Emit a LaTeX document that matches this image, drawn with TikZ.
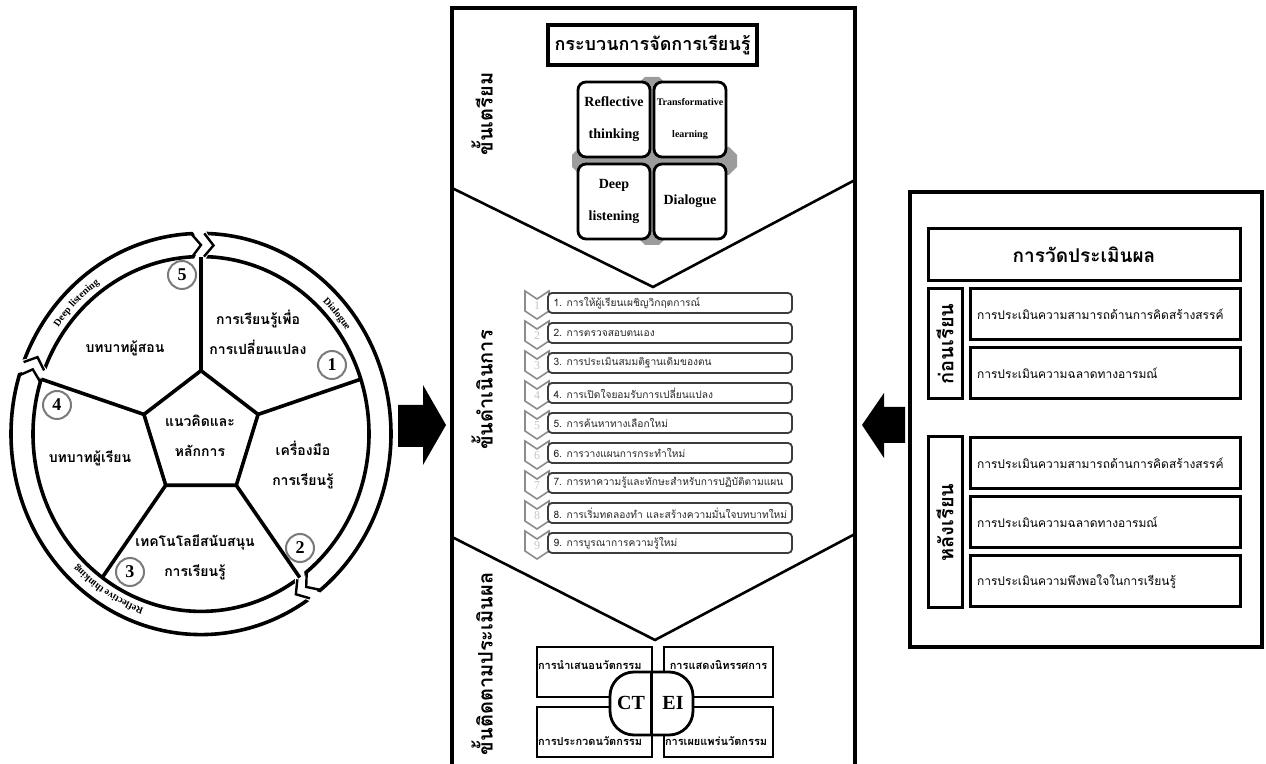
\documentclass[tikz,border=0pt]{standalone}
\usepackage{fontspec}
\setmainfont{Liberation Serif}
\newfontfamily\thaifont[Script=Thai]{Loma}
\usetikzlibrary{positioning,decorations.text}

\definecolor{crossgray}{HTML}{9C9C9C}
\definecolor{rowline}{HTML}{3C3C3C}
\definecolor{chevgray}{HTML}{8C8C8C}
\definecolor{numgray}{HTML}{7A7A7A}

\tikzset{
  panelline/.style={line width=1.6pt},
  ringline/.style={line width=1.8pt},
  sidelabel/.style={rotate=90, font=\thaifont\bfseries\fontsize{10}{12}\selectfont},
  segtext/.style={align=center, font=\thaifont\bfseries\fontsize{7}{15}\selectfont},
  numcircle/.style={circle, draw=numgray, line width=1pt, fill=white, minimum size=14pt,
    inner sep=0pt, font=\bfseries\fontsize{9}{9}\selectfont},
  topicbox/.style={draw, line width=1.4pt, rounded corners=4pt, fill=white,
    minimum width=36pt, minimum height=37.5pt, inner sep=0pt, align=center,
    font=\bfseries\fontsize{7}{16}\selectfont},
  stepbox/.style={draw=rowline, line width=0.9pt, rounded corners=2pt, fill=white,
    minimum width=122pt, minimum height=10pt, inner sep=0pt},
  steptext/.style={anchor=west, inner sep=0pt, text=black!85,
    font=\thaifont\fontsize{5.1}{6}\selectfont},
  stepchev/.style={draw=chevgray, line width=0.8pt, fill=white},
  showbox/.style={draw, line width=1.4pt, fill=white, minimum width=#1,
    minimum height=25pt, inner sep=0pt},
  showtext/.style={inner sep=1pt, font=\thaifont\bfseries\fontsize{5.5}{6}\selectfont},
  evalbox/.style={draw, line width=1.5pt, fill=white, minimum height=25.5pt,
    minimum width=135pt, inner xsep=3.5pt, text width=128pt, align=left,
    font=\thaifont\fontsize{6}{7}\selectfont},
  sidebox/.style={draw, line width=1.5pt, fill=white, minimum width=17pt, inner sep=0pt}
}

\begin{document}
\begin{tikzpicture}[x=0.5pt,y=-0.5pt]
    \useasboundingbox (0,0) rectangle (1266,764);

    % Wheel
    \begin{scope}[shift={(201,434)}, x=0.5pt, y=0.528pt]
        \draw[ringline] (0,0) ellipse[x radius=95pt, y radius=100.3pt];
        \draw[ringline] (0,0) ellipse[x radius=84pt, y radius=88.7pt];

        % Breaks in the ring
        \foreach \t in {91,-53,161}
            {
                \fill[white] ({\t+2}:163) -- ({\t-1}:179) -- ({\t+2}:195) -- ({\t-2}:195) -- ({\t-5}:179) -- ({\t-2}:163) -- cycle;
                \draw[line width=1.2pt] ({\t+2}:168) -- ({\t-1}:179) -- ({\t+2}:190);
                \draw[line width=1.2pt] ({\t-2}:168) -- ({\t-5}:179) -- ({\t-2}:190);
            }

        % Ring labels
        \path[decorate, decoration={text along path, text align=center,
            text={|\bfseries\fontsize{5}{6}\selectfont|Deep listening}}]
            (148:175) arc[start angle=148, end angle=122, radius=175];
        \path[decorate, decoration={text along path, text align=center,
            text={|\bfseries\fontsize{5}{6}\selectfont|Dialogue}}]
            (49:175) arc[start angle=49, end angle=31, radius=175];
        \path[decorate, decoration={text along path, text align=center,
            text={|\bfseries\fontsize{5}{6}\selectfont|Reflective thinking}}]
            (256:175) arc[start angle=256, end angle=220, radius=175];

        % Pentagon and spokes
        \foreach \a [count=\i] in {90,18,-54,-126,-198}
            {
                \coordinate (p\i) at (\a:60);
                \coordinate (s\i) at (\a:168);
                \draw[ringline] (p\i) -- (s\i);
            }
        \draw[ringline, fill=white] (p1) -- (p2) -- (p3) -- (p4) -- (p5) -- cycle;
    \end{scope}

    % Wheel texts
    \node[segtext] (core) at (200,436) {แนวคิดและ\\หลักการ};
    \node[segtext] (change) at (258,332) {การเรียนรู้เพื่อ\\การเปลี่ยนแปลง};
    \node[segtext] (tools) at (303,465) {เครื่องมือ\\การเรียนรู้};
    \node[segtext] (tech) at (195,557) {เทคโนโลยีสนับสนุน\\การเรียนรู้};
    \node[segtext] (learner) at (90,458) {บทบาทผู้เรียน};
    \node[segtext] (teacher) at (125,348) {บทบาทผู้สอน};

    % Numbers
    \foreach \n/\x/\y in {1/332/365, 2/300/548, 3/130/572, 4/57/405, 5/182/275}
        {
            \node[numcircle] (num\n) at (\x,\y) {\n};
        }

    % Arrows
    \fill (398,405) -- (423,405) -- (423,385) -- (446,425) -- (423,465) -- (423,447) -- (398,447) -- cycle;
    \fill (905,407) -- (884,407) -- (884,393) -- (862,425) -- (884,458) -- (884,443) -- (905,443) -- cycle;

    % Process panel
    \draw[panelline] (452,764) -- (452,8) -- (855,8) -- (855,764);
    \draw[line width=1.3pt] (452,188) -- (653,287) -- (855,180);
    \draw[line width=1.3pt] (452,537) -- (655,640) -- (855,534);

    \node[sidelabel] (prep) at (482,114) {ขั้นเตรียม};
    \node[sidelabel] (proc) at (482,390) {ขั้นดำเนินการ};
    \node[sidelabel] (follow) at (482,664) {ขั้นติดตามประเมินผล};

    \node[draw, line width=1.6pt, minimum width=104.5pt, minimum height=20pt, inner sep=0pt,
        font=\thaifont\bfseries\fontsize{9}{10}\selectfont] (maintitle) at (652.5,45) {กระบวนการจัดการเรียนรู้};

    % Cross behind the four topics
    \fill[crossgray] (637,85) -- (645,77) -- (659,77) -- (667,85) -- (667,237) -- (659,245) -- (645,245) -- (637,237) -- cycle;
    \fill[crossgray] (580,147) -- (729,147) -- (737,155) -- (737,167) -- (729,175) -- (580,175) -- (572,167) -- (572,155) -- cycle;

    \node[topicbox] (reflect) at (614,119.5) {Reflective\\thinking};
    \node[topicbox, font=\bfseries\fontsize{5}{16}\selectfont] (transform) at (690,119.5) {Transformative\\learning};
    \node[topicbox] (listen) at (614,201.5) {Deep\\listening};
    \node[topicbox] (dialog) at (690,201.5) {Dialogue};

    % Steps
    \foreach \i/\txt in {1/{การให้ผู้เรียนเผชิญวิกฤตการณ์}, 2/{การตรวจสอบตนเอง},
        3/{การประเมินสมมติฐานเดิมของตน}, 4/{การเปิดใจยอมรับการเปลี่ยนแปลง},
        5/{การค้นหาทางเลือกใหม่}, 6/{การวางแผนการกระทำใหม่},
        7/{การหาความรู้และทักษะสำหรับการปฏิบัติตามแผน},
        8/{การเริ่มทดลองทำ และสร้างความมั่นใจบทบาทใหม่}, 9/{การบูรณาการความรู้ใหม่}}
        {
            \pgfmathsetmacro{\yt}{291+30*(\i-1)}
            \draw[stepchev] (525,\yt) -- (537,\yt+8) -- (549,\yt) -- (549,\yt+20) -- (537,\yt+28) -- (525,\yt+20) -- cycle;
            \node[font=\fontsize{6}{6}\selectfont, text=chevgray!50] (cn\i) at (537,\yt+15) {\i};
            \node[stepbox] (step\i) at (670,\yt+12) {};
            \node[steptext] (steptxt\i) at ([xshift=3pt]step\i.west) {\i. \txt};
        }

    % Follow-up activities
    \node[showbox=57.5pt] (present) at (594.5,672) {};
    \node[showbox=54.5pt] (exhibit) at (718.5,672) {};
    \node[showbox=57.5pt] (contest) at (594.5,732) {};
    \node[showbox=54.5pt] (spread) at (718.5,732) {};
    \node[showtext, anchor=west] (presenttext) at ([yshift=3.5pt]present.west) {การนำเสนอนวัตกรรม};
    \node[showtext] (exhibittext) at ([yshift=3.5pt]exhibit.center) {การแสดงนิทรรศการ};
    \node[showtext, anchor=west] (contesttext) at ([yshift=-4.5pt]contest.west) {การประกวดนวัตกรรม};
    \node[showtext, anchor=west] (spreadtext) at ([yshift=-4.5pt]spread.west) {การเผยแพร่นวัตกรรม};

    \node[draw, line width=1.4pt, fill=white, rounded corners=12pt, minimum width=41.5pt,
        minimum height=31.5pt] (ctei) at (651.5,703.5) {};
    \draw[line width=1.4pt] (ctei.north) -- (ctei.south);
    \node[font=\bfseries\fontsize{10}{10}\selectfont] (ct) at (631,703) {CT};
    \node[font=\bfseries\fontsize{10}{10}\selectfont] (ei) at (673,703) {EI};

    % Evaluation panel
    \node[draw, line width=1.6pt, minimum width=176pt, minimum height=227.5pt] (evalframe) at (1086,419.5) {};
    \node[draw, line width=1.5pt, minimum width=156pt, minimum height=26pt,
        font=\thaifont\bfseries\fontsize{9.5}{10}\selectfont] (evaltitle) at (1084,255) {การวัดประเมินผล};

    \node[sidebox, minimum height=55pt] (before) at (945,344) {};
    \node[sidelabel] (beforetext) at (before.center) {ก่อนเรียน};
    \node[sidebox, minimum height=85.5pt] (after) at (945,522.5) {};
    \node[sidelabel] (aftertext) at (after.center) {หลังเรียน};

    \foreach \y/\txt [count=\i] in {314.5/{การประเมินความสามารถด้านการคิดสร้างสรรค์},
        373.5/{การประเมินความฉลาดทางอารมณ์},
        463/{การประเมินความสามารถด้านการคิดสร้างสรรค์},
        522.5/{การประเมินความฉลาดทางอารมณ์},
        581.5/{การประเมินความพึงพอใจในการเรียนรู้}}
        {
            \node[evalbox] (eval\i) at (1105,\y) {\txt};
        }

\end{tikzpicture}
\end{document}
